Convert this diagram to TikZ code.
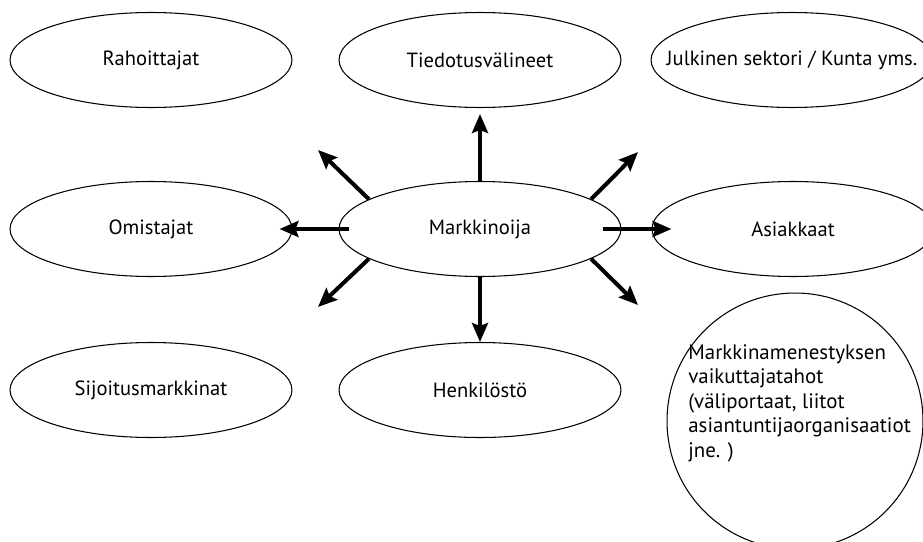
\documentclass[tikz,border=0pt]{standalone}
\usepackage{fontspec}
\setmainfont{PT Sans}
\usetikzlibrary{shapes.geometric,arrows.meta}

\begin{document}
\begin{tikzpicture}[x=0.02cm, y=-0.02cm, every node/.style={font=\fontsize{11.7}{14}\selectfont},
	taho/.style={draw, ellipse, line width=0.6pt, minimum width=5.64cm, minimum height=1.9cm, inner sep=0pt},
	nuoli/.style={line width=2.3pt, -{Stealth[length=0.38cm, width=0.32cm, inset=0.06cm]}}]
			\clip (0,0) rectangle (923,541);
			\node [taho] (rah) at (151,60) {Rahoittajat};
			\node [taho] (tied) at (480,60) {Tiedotusvälineet};
			\node [taho, label=center:Julkinen sektori / Kunta yms.] (julk) at (792,60) {};
			\node [taho] (omis) at (151,229) {Omistajat};
			\node [taho] (mark) at (480,229) {Markkinoija};
			\node [taho] (asia) at (793,229) {Asiakkaat};
			\node [taho] (sijo) at (151,390) {Sijoitusmarkkinat};
			\node [taho] (henk) at (480,390) {Henkilöstö};
			\node [draw, circle, line width=0.6pt, minimum size=5.12cm, inner sep=0pt] (vaik) at (795,421) {};
			\node [anchor=north west, align=left, inner sep=0pt, font=\fontsize{11.9}{14}\selectfont] (vaiktxt) at (688,344) {Markkinamenestyksen\\vaikuttajatahot\\(väliportaat, liitot\\asiantuntijaorganisaatiot\\jne. )};
			\coordinate (vy) at (318,150);
			\coordinate (oy) at (638,152);
			\coordinate (va) at (318,307);
			\coordinate (oa) at (638,305);
			\draw [nuoli] (mark.north) -- ([yshift=-0.12cm]tied.south);
			\draw [nuoli] (mark.south) -- (henk.north);
			\draw [nuoli] ([xshift=0.2cm]mark.west) -- ([xshift=-0.26cm]omis.east);
			\draw [nuoli] ([xshift=-0.38cm]mark.east) -- ([xshift=0.4cm]asia.west);
			\draw [nuoli] (mark.165) -- (vy);
			\draw [nuoli] (mark.15) -- (oy);
			\draw [nuoli] (mark.195) -- (va);
			\draw [nuoli] (mark.345) -- (oa);
\end{tikzpicture}
\end{document}
